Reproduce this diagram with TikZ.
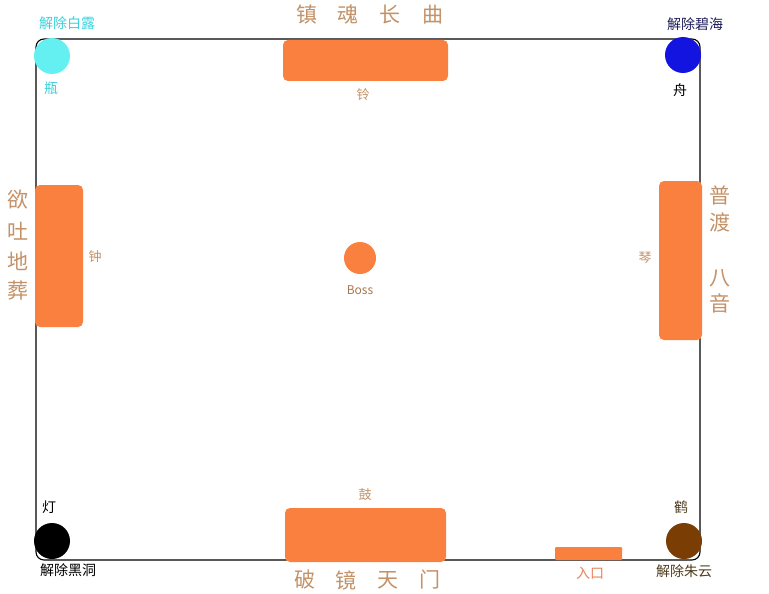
\documentclass[tikz,border=0pt]{standalone}
\usepackage{fontspec}
\setmainfont{Noto Sans CJK SC}
\definecolor{barorange}{RGB}{250,128,64}
\definecolor{tantext}{RGB}{196,146,104}
\definecolor{cyanc}{RGB}{100,240,240}
\definecolor{cyant}{RGB}{60,210,220}
\definecolor{bluec}{RGB}{20,20,225}
\definecolor{navyt}{RGB}{30,30,90}
\definecolor{brownc}{RGB}{122,62,4}
\definecolor{brownt}{RGB}{80,60,30}
\definecolor{entrt}{RGB}{232,130,90}
\begin{document}
\begin{tikzpicture}[x=1pt,y=-1pt,
  bar/.style={fill=barorange,draw=none,rounded corners=5pt},
  title/.style={text=tantext,font=\fontsize{21}{21}\selectfont,inner sep=0pt},
  lab/.style={text=tantext,font=\fontsize{13}{13}\selectfont,inner sep=0pt},
  clab/.style={font=\fontsize{14}{14}\selectfont,inner sep=0pt},
  dot/.style={circle,draw=none,inner sep=0pt}]
\useasboundingbox[fill=white] (0,0) rectangle (769,594);
% frame
\draw[black,line width=1.1pt,rounded corners=8pt] (36,39) rectangle (700,560);
% bars
\fill[bar] (283,40) rectangle (448,81);
\fill[bar] (35,185) rectangle (83,327);
\fill[bar] (659,181) rectangle (702,340);
\fill[bar] (285,508) rectangle (446,562);
\fill[barorange,rounded corners=1pt] (555,547) rectangle (622,560);
% boss
\node[dot,fill=barorange,minimum size=32pt] (boss) at (360,258) {};
\node[text=tantext!70!brownt,font=\fontsize{12}{12}\selectfont,inner sep=0pt] (bosst) at (360,290) {Boss};
% corner circles
\node[dot,fill=cyanc,minimum size=36pt] (cyan) at (52,56) {};
\node[dot,fill=bluec,minimum size=36pt] (blue) at (683,55) {};
\node[dot,fill=black,minimum size=36pt] (blk) at (52,541) {};
\node[dot,fill=brownc,minimum size=36pt] (brn) at (684,541) {};
% corner labels
\node[clab,text=cyant] (t1) at (67,23) {解除白露};
\node[clab,text=cyant] (t1b) at (51,88) {瓶};
\node[clab,text=navyt] (t2) at (695,24) {解除碧海};
\node[clab,text=black] (t2b) at (680,90) {舟};
\node[clab,text=black] (t3) at (49,507) {灯};
\node[clab,text=black] (t3b) at (68,570) {解除黑洞};
\node[clab,text=brownt] (t4) at (681,507) {鹤};
\node[clab,text=brownt] (t4b) at (684,571) {解除朱云};
\node[clab,text=entrt] (entr) at (590,573) {入口};
% bar labels
\node[lab] (ling) at (363,95) {铃};
\node[lab] (zhong) at (95,257) {钟};
\node[lab] (qin) at (645,258) {琴};
\node[lab] (gu) at (365,495) {鼓};
% titles top
\node[title] (a1) at (307,15) {镇};
\node[title] (a2) at (348,15) {魂};
\node[title] (a3) at (390,15) {长};
\node[title] (a4) at (433,15) {曲};
% titles bottom
\node[title] (b1) at (305,580) {破};
\node[title] (b2) at (346,580) {镜};
\node[title] (b3) at (388,580) {天};
\node[title] (b4) at (430,580) {门};
% left vertical
\node[title] (c1) at (18,200) {欲};
\node[title] (c2) at (18,231) {吐};
\node[title] (c3) at (18,261) {地};
\node[title] (c4) at (18,291) {葬};
% right vertical
\node[title] (d1) at (720,195) {普};
\node[title] (d2) at (720,222) {渡};
\node[title] (d3) at (720,278) {八};
\node[title] (d4) at (720,303) {音};
\end{tikzpicture}
\end{document}
